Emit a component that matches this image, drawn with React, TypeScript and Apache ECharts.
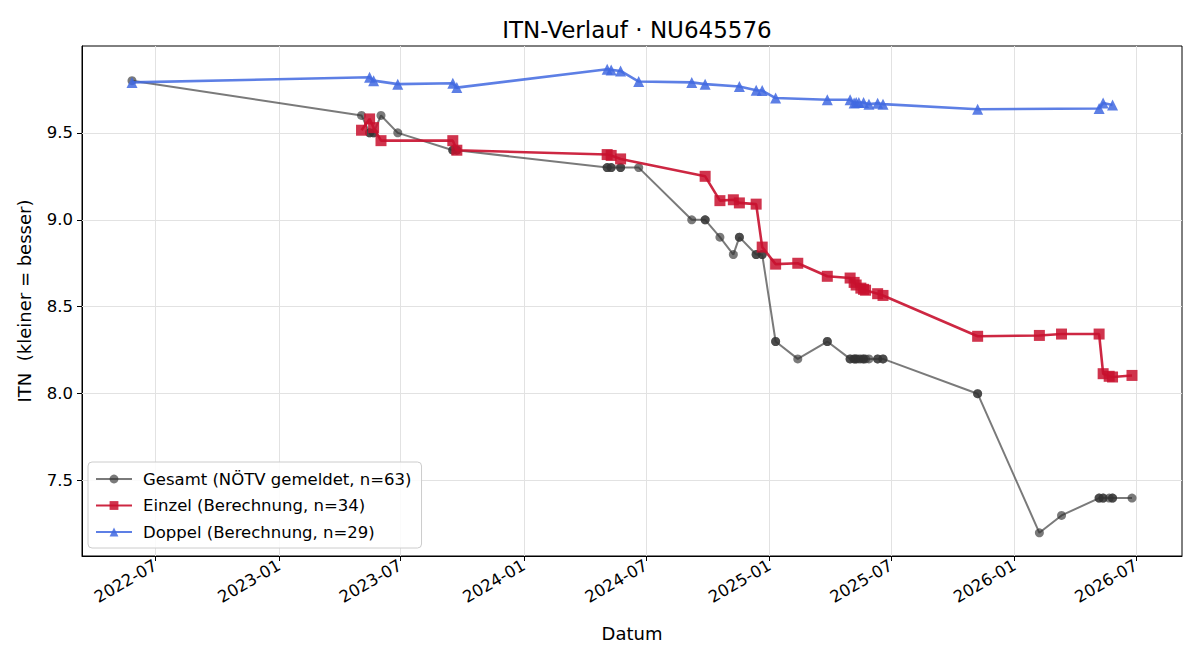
import React, { useEffect, useRef } from "react";
import * as echarts from "echarts";

// ---- data ----
const einzelDates = [
  "2023-05-04", "2023-05-16", "2023-05-22", "2023-06-02", "2023-09-17", "2023-09-23",
  "2024-05-04", "2024-05-10", "2024-05-24", "2024-09-27", "2024-10-19", "2024-11-08",
  "2024-11-17", "2024-12-12", "2024-12-21", "2025-01-10", "2025-02-12", "2025-03-28",
  "2025-05-01", "2025-05-07", "2025-05-10", "2025-05-17", "2025-05-21", "2025-05-24",
  "2025-06-11", "2025-06-19", "2025-11-07", "2026-02-07", "2026-03-12", "2026-05-07",
  "2026-05-13", "2026-05-22", "2026-05-27", "2026-06-25",
];
const einzelValues = [
  9.515, 9.58, 9.53, 9.455, 9.455, 9.40,
  9.375, 9.37, 9.35, 9.25, 9.11, 9.115,
  9.097, 9.09, 8.843, 8.745, 8.75, 8.675,
  8.665, 8.64, 8.625, 8.607, 8.60, 8.595,
  8.575, 8.565, 8.33, 8.335, 8.343, 8.343,
  8.115, 8.10, 8.096, 8.105,
];

const doppelDates = [
  "2022-05-27", "2023-05-16", "2023-05-22", "2023-06-27", "2023-09-17", "2023-09-23",
  "2024-05-04", "2024-05-10", "2024-05-24", "2024-06-20", "2024-09-07", "2024-09-27",
  "2024-11-17", "2024-12-12", "2024-12-21", "2025-01-10", "2025-03-28", "2025-05-01",
  "2025-05-07", "2025-05-10", "2025-05-14", "2025-05-21", "2025-05-29", "2025-06-11",
  "2025-06-19", "2025-11-07", "2026-05-07", "2026-05-13", "2026-05-27",
];
const doppelValues = [
  9.79, 9.82, 9.80, 9.78, 9.785, 9.76,
  9.866, 9.862, 9.856, 9.795, 9.79, 9.78,
  9.766, 9.745, 9.743, 9.70, 9.69, 9.69,
  9.672, 9.674, 9.674, 9.674, 9.665, 9.67,
  9.665, 9.636, 9.64, 9.672, 9.66,
];

const gesamtDates = [
  "2022-05-27", "2023-05-04", "2023-05-16", "2023-05-16", "2023-05-22", "2023-05-22",
  "2023-06-02", "2023-06-27", "2023-09-17", "2023-09-17", "2023-09-23", "2023-09-23",
  "2024-05-04", "2024-05-04", "2024-05-10", "2024-05-10", "2024-05-24", "2024-05-24",
  "2024-06-20", "2024-09-07", "2024-09-27", "2024-09-27", "2024-10-19", "2024-11-08",
  "2024-11-17", "2024-11-17", "2024-12-12", "2024-12-12", "2024-12-21", "2024-12-21",
  "2025-01-10", "2025-01-10", "2025-02-12", "2025-03-28", "2025-03-28", "2025-05-01",
  "2025-05-01", "2025-05-07", "2025-05-07", "2025-05-10", "2025-05-10", "2025-05-14",
  "2025-05-17", "2025-05-21", "2025-05-21", "2025-05-24", "2025-05-29", "2025-06-11",
  "2025-06-11", "2025-06-19", "2025-06-19", "2025-11-07", "2025-11-07", "2026-02-07",
  "2026-03-12", "2026-05-07", "2026-05-07", "2026-05-13", "2026-05-13", "2026-05-22",
  "2026-05-27", "2026-05-27", "2026-06-25",
];
const gesamtValues = [
  9.8, 9.6, 9.5, 9.5, 9.5, 9.5,
  9.6, 9.5, 9.4, 9.4, 9.4, 9.4,
  9.3, 9.3, 9.3, 9.3, 9.3, 9.3,
  9.3, 9.0, 9.0, 9.0, 8.9, 8.8,
  8.9, 8.9, 8.8, 8.8, 8.8, 8.8,
  8.3, 8.3, 8.2, 8.3, 8.3, 8.2,
  8.2, 8.2, 8.2, 8.2, 8.2, 8.2,
  8.2, 8.2, 8.2, 8.2, 8.2, 8.2,
  8.2, 8.2, 8.2, 8.0, 8.0, 7.2,
  7.3, 7.4, 7.4, 7.4, 7.4, 7.4,
  7.4, 7.4, 7.4,
];

const xTickLabels = [
  "2022-07", "2023-01", "2023-07", "2024-01", "2024-07",
  "2025-01", "2025-07", "2026-01", "2026-07",
];
const yTickValues = [7.5, 8.0, 8.5, 9.0, 9.5];

const seriesNames = [
  "Gesamt (NÖTV gemeldet, n=63)",
  "Einzel (Berechnung, n=34)",
  "Doppel (Berechnung, n=29)",
];

const ts = (d: string) => Date.parse(d + "T00:00:00Z");
const pair = (dates: string[], vals: number[]) => dates.map((d, i) => [ts(d), vals[i]]);

export default function App() {
  const ref = useRef<HTMLDivElement>(null);

  useEffect(() => {
    if (!ref.current) return;
    const chart = echarts.init(ref.current, undefined, { renderer: "svg" });

    const allT = [...gesamtDates, ...einzelDates, ...doppelDates].map(ts);
    const allV = [...gesamtValues, ...einzelValues, ...doppelValues];
    const tMin = Math.min(...allT), tMax = Math.max(...allT);
    const vMin = Math.min(...allV), vMax = Math.max(...allV);
    const tPad = (tMax - tMin) * 0.05, vPad = (vMax - vMin) * 0.05;

    const xTickValues = xTickLabels.map((l) => ts(l + "-01"));
    const font = "DejaVu Sans";
    const gridColor = "#e2e2e2";

    chart.setOption({
      animation: false,
      textStyle: { fontFamily: font },
      title: {
        text: "ITN-Verlauf · NU645576",
        left: 632,
        top: 13,
        textAlign: "center",
        textStyle: { fontFamily: font, fontSize: 23, fontWeight: "normal", color: "#000" },
      },
      grid: {
        left: 82, right: 18, top: 46, bottom: 104,
        show: true, borderColor: "#000", borderWidth: 1, backgroundColor: "transparent",
      },
      legend: {
        data: seriesNames,
        z: 8,
        orient: "vertical",
        left: 88,
        top: 462,
        padding: [8, 10, 7, 7],
        itemWidth: 36,
        itemHeight: 11,
        itemGap: 8.5,
        backgroundColor: "rgba(255,255,255,0.85)",
        borderColor: "#cccccc",
        borderWidth: 1,
        borderRadius: 4,
        textStyle: { fontFamily: font, fontSize: 16.5, color: "#000", lineHeight: 18, padding: [0, 0, 0, 6] },
      },
      xAxis: {
        type: "value",
        min: tMin - tPad,
        max: tMax + tPad,
        scale: true,
        name: "Datum",
        nameLocation: "middle",
        nameGap: 68,
        nameTextStyle: { fontFamily: font, fontSize: 18, color: "#000" },
        axisLine: { show: true, lineStyle: { color: "#000", width: 1 } },
        axisTick: { show: true, length: 5, lineStyle: { color: "#000" }, customValues: xTickValues },
        axisLabel: {
          customValues: xTickValues,
          rotate: 30,
          margin: 8,
          fontFamily: font,
          fontSize: 16.5,
          color: "#000",
          formatter: (v: number) => {
            const i = xTickValues.indexOf(v);
            return i >= 0 ? xTickLabels[i] : "";
          },
        },
        splitLine: { show: false },
      },
      yAxis: {
        type: "value",
        min: vMin - vPad,
        max: vMax + vPad,
        scale: true,
        name: "ITN  (kleiner = besser)",
        nameLocation: "middle",
        nameGap: 49,
        nameTextStyle: { fontFamily: font, fontSize: 18, color: "#000" },
        axisLine: { show: true, lineStyle: { color: "#000", width: 1 } },
        axisTick: { show: true, length: 5, lineStyle: { color: "#000" }, customValues: yTickValues },
        axisLabel: {
          customValues: yTickValues,
          margin: 9,
          fontFamily: font,
          fontSize: 16.5,
          color: "#000",
          formatter: (v: number) => v.toFixed(1),
        },
        splitLine: { show: false },
      },
      series: [
        {
          name: "__grid",
          type: "line",
          data: [],
          z: 1,
          silent: true,
          legendHoverLink: false,
          markLine: {
            z: 1,
            silent: true,
            symbol: ["none", "none"],
            label: { show: false },
            emphasis: { disabled: true },
            lineStyle: { color: gridColor, width: 1, type: "solid" },
            data: [
              ...xTickValues.map((x) => ({ xAxis: x })),
              ...yTickValues.map((y) => ({ yAxis: y })),
            ],
          },
        },
        {
          name: seriesNames[0],
          type: "line",
          z: 2,
          data: pair(gesamtDates, gesamtValues),
          symbol: "circle",
          symbolSize: 9,
          showAllSymbol: true,
          color: "#333333",
          lineStyle: { color: "#333333", width: 2, opacity: 0.65 },
          itemStyle: { color: "#333333", opacity: 0.65 },
        },
        {
          name: seriesNames[1],
          type: "line",
          z: 3,
          data: pair(einzelDates, einzelValues),
          symbol: "rect",
          symbolSize: 11,
          showAllSymbol: true,
          color: "#c8102e",
          lineStyle: { color: "#c8102e", width: 2.6, opacity: 0.9 },
          itemStyle: { color: "#c8102e", opacity: 0.85 },
        },
        {
          name: seriesNames[2],
          type: "line",
          z: 4,
          data: pair(doppelDates, doppelValues),
          symbol: "triangle",
          symbolSize: 11,
          showAllSymbol: true,
          color: "#4169e1",
          lineStyle: { color: "#4169e1", width: 2.6, opacity: 0.85 },
          itemStyle: { color: "#4169e1", opacity: 0.85 },
        },
      ],
    });

    return () => chart.dispose();
  }, []);

  return (
    <div
      ref={ref}
      style={{ position: "fixed", left: 0, top: 0, width: 1200, height: 660, background: "#fff" }}
    />
  );
}
